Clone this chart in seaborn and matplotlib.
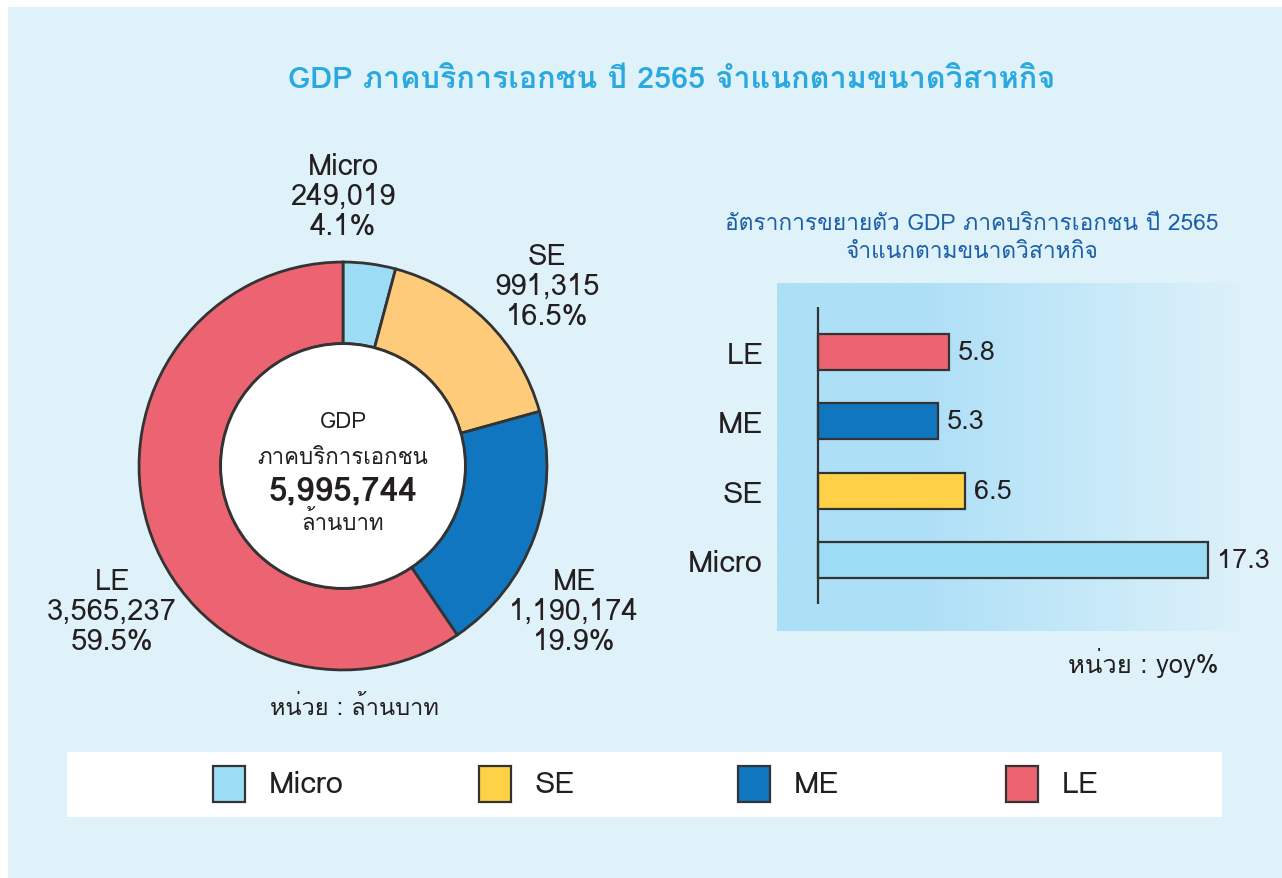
import matplotlib
matplotlib.use("Agg")
import matplotlib.pyplot as plt
import matplotlib.font_manager as fm
from matplotlib.ft2font import FT2Font
from matplotlib.patches import Rectangle, Circle
from matplotlib.colors import LinearSegmentedColormap
import numpy as np
import pandas as pd
import seaborn as sns

# data
segments = ["Micro", "SE", "ME", "LE"]
gdp_values = [249019, 991315, 1190174, 3565237]
gdp_shares = [4.1, 16.5, 19.9, 59.5]
gdp_total = 5995744
growth_cats = ["LE", "ME", "SE", "Micro"]
growth_values = [5.8, 5.3, 6.5, 17.3]

pie_colors = {"Micro": "#9ddcf5", "SE": "#fecb7a", "ME": "#0f76bf", "LE": "#ec6371"}
bar_colors = {"Micro": "#9ddcf5", "SE": "#ffd147", "ME": "#0f76bf", "LE": "#ec6371"}

BG = "#dff2f9"
TXT = "#231f20"
EDGE = "#333333"

# find a font that can draw Thai
thai_fonts = []
for f in fm.fontManager.ttflist:
    try:
        if 0x0E01 in FT2Font(f.fname).get_charmap():
            thai_fonts.append(f.name)
    except Exception:
        pass
thai_fonts = list(dict.fromkeys(thai_fonts))

sns.set_theme(style="white")
plt.rcParams["font.family"] = thai_fonts[:1] + ["DejaVu Sans"]

W, H = 1282, 879
fig = plt.figure(figsize=(W / 100, H / 100), dpi=100)
fig.patch.set_facecolor("white")


def px_axes(x0, y0, x1, y1, **kw):
    # axes placed by pixel box (top-left origin)
    return fig.add_axes([x0 / W, 1 - y1 / H, (x1 - x0) / W, (y1 - y0) / H], **kw)


def ftext(x, y, s, **kw):
    fig.text(x / W, 1 - y / H, s, **kw)


fig.patches.append(Rectangle((8 / W, 0), 1, 1 - 8 / H, transform=fig.transFigure,
                             facecolor=BG, edgecolor="none", zorder=-10))

ftext(672, 80, "GDP ภาคบริการเอกชน ปี 2565 จำแนกตามขนาดวิสาหกิจ", ha="center", va="center",
      fontsize=22, fontweight="bold", color="#2aa8e0")

# donut
ax_pie = px_axes(137, 261, 549, 673)
ax_pie.pie(gdp_values, colors=[pie_colors[s] for s in segments], startangle=90,
           counterclock=False, radius=1,
           wedgeprops=dict(width=0.4, edgecolor=EDGE, linewidth=2))
ax_pie.add_patch(Circle((0, 0), 0.6, facecolor="white", edgecolor=EDGE, linewidth=2, zorder=5))
ax_pie.set_xlim(-1.01, 1.01)
ax_pie.set_ylim(-1.01, 1.01)
ax_pie.set_aspect("equal")
ax_pie.axis("off")

ftext(343, 423, "GDP", ha="center", va="center", fontsize=16, color=TXT)
ftext(343, 458, "ภาคบริการเอกชน", ha="center", va="center", fontsize=16, color=TXT)
ftext(343, 491, f"{gdp_total:,}", ha="center", va="center", fontsize=24, fontweight="bold", color=TXT)
ftext(343, 523, "ล้านบาท", ha="center", va="center", fontsize=16, color=TXT)

label_pos = {"Micro": (343, 197), "SE": (547, 287), "ME": (574, 612), "LE": (112, 612)}
for seg, val, share in zip(segments, gdp_values, gdp_shares):
    x, y = label_pos[seg]
    ftext(x, y, f"{seg}\n{val:,}\n{share}%", ha="center", va="center", fontsize=21,
          color=TXT, linespacing=1.1)

ftext(355, 708, "หน่วย : ล้านบาท", ha="center", va="center", fontsize=17, color=TXT)

# growth bar chart
ftext(972, 225, "อัตราการขยายตัว GDP ภาคบริการเอกชน ปี 2565", ha="center", va="center",
      fontsize=16.4, color="#1a5fa8")
ftext(972, 252, "จำแนกตามขนาดวิสาหกิจ", ha="center", va="center", fontsize=16.4, color="#1a5fa8")

ax_bg = px_axes(777, 284, 1240, 632)
grad = np.linspace(0, 1, 256)
grad = np.clip((grad - 0.3) / 0.7, 0, 1)[None, :]
cmap = LinearSegmentedColormap.from_list("panel", ["#addff7", "#dcf1fa"])
ax_bg.imshow(grad, cmap=cmap, aspect="auto", extent=[0, 1, 0, 1])
ax_bg.axis("off")

ax_bar = px_axes(777, 284, 1240, 632)
ax_bar.patch.set_alpha(0)
df = pd.DataFrame({"segment": growth_cats, "growth": growth_values})
sns.barplot(data=df, x="growth", y="segment", hue="segment", palette=bar_colors,
            saturation=1, orient="h", width=0.52, edgecolor=EDGE, linewidth=1.6,
            legend=False, ax=ax_bar)
px_per_unit = 22.55
ax_bar.set_xlim(-41 / px_per_unit, (1240 - 818) / px_per_unit)
ax_bar.set_ylim(4.03, -1.0)
ax_bar.vlines(0, -0.65, 3.64, color=EDGE, linewidth=1.6, zorder=5)
for i, v in enumerate(growth_values):
    ax_bar.text(v + 0.4, i, f"{v}", va="center", ha="left", fontsize=19.5, color=TXT)
for s in ax_bar.spines.values():
    s.set_visible(False)
ax_bar.set_xticks([])
ax_bar.set_xlabel("")
ax_bar.set_ylabel("")
ax_bar.tick_params(axis="y", length=0, pad=10, labelsize=22, labelcolor=TXT)

ftext(1218, 663, "หน่วย : yoy%", ha="right", va="center", fontsize=18.4, color=TXT)

# legend strip
ax_leg = px_axes(67, 753, 1222, 818)
ax_leg.set_xlim(67, 1222)
ax_leg.set_ylim(818, 753)
ax_leg.set_facecolor("white")
for s in ax_leg.spines.values():
    s.set_visible(False)
ax_leg.set_xticks([])
ax_leg.set_yticks([])
leg_x = {"Micro": 213, "SE": 479, "ME": 738, "LE": 1006}
for seg in segments:
    x = leg_x[seg]
    ax_leg.add_patch(Rectangle((x, 767), 32, 36, facecolor=bar_colors[seg], edgecolor=EDGE,
                               linewidth=1.6))
    ax_leg.text(x + 56, 785, seg, ha="left", va="center", fontsize=22, color=TXT)

fig.savefig("out.png", dpi=100, facecolor=fig.get_facecolor())
